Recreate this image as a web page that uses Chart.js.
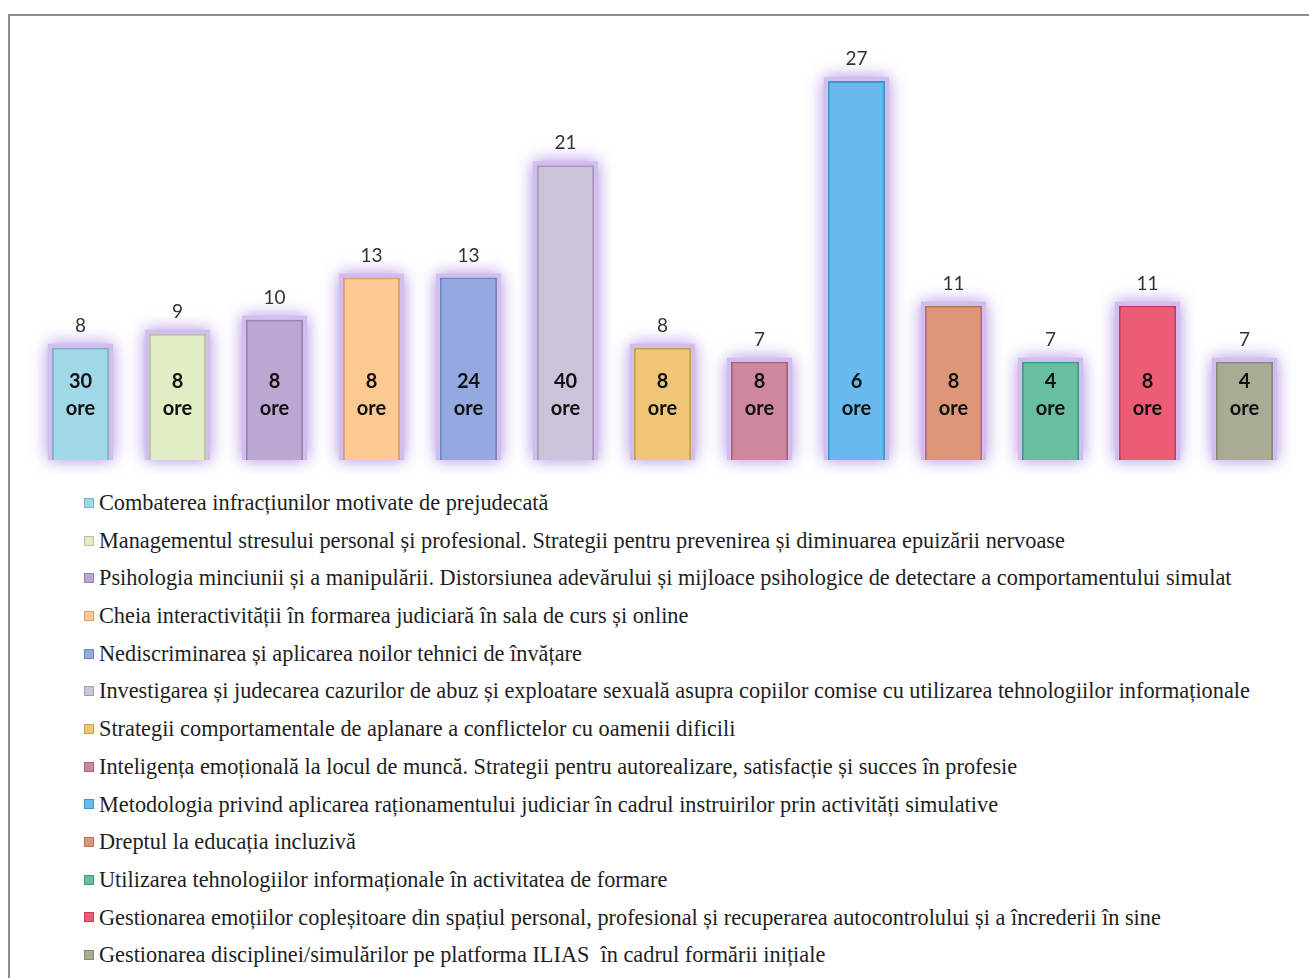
<!DOCTYPE html>
<html>
<head>
<meta charset="utf-8">
<script src="https://cdn.jsdelivr.net/npm/chart.js@4"></script>
<style>
  html, body { margin: 0; padding: 0; background: #fff; overflow: hidden; }
  #frame { position: absolute; left: 8px; top: 14px; width: 1330px; height: 1000px;
           border-left: 2px solid #8c8c8c; border-top: 2px solid #8c8c8c; }
  #wrap { position: absolute; left: 0; top: 0; width: 1309px; height: 475px; }
  #legend { position: absolute; left: 80px; top: 484px; margin: 0; padding: 0; list-style: none;
            font-family: "Liberation Serif", "Times New Roman", serif; font-size: 22.3px; color: #1e1e1e; }
  #legend li { height: 37.7px; line-height: 37.7px; white-space: pre; display: flex; align-items: center; }
  #legend .box { display: inline-block; width: 8px; height: 8px; margin-right: 5px; margin-left: 4px; border: 1px solid; }
</style>
</head>
<body>
<div id="frame"></div>
<div id="wrap"><canvas id="cursuri"></canvas></div>
<ul id="legend"></ul>
<script>
var courseNames = [
  'Combaterea infracțiunilor motivate de prejudecată',
  'Managementul stresului personal și profesional. Strategii pentru prevenirea și diminuarea epuizării nervoase',
  'Psihologia minciunii și a manipulării. Distorsiunea adevărului și mijloace psihologice de detectare a comportamentului simulat',
  'Cheia interactivității în formarea judiciară în sala de curs și online',
  'Nediscriminarea și aplicarea noilor tehnici de învățare',
  'Investigarea și judecarea cazurilor de abuz și exploatare sexuală asupra copiilor comise cu utilizarea tehnologiilor informaționale',
  'Strategii comportamentale de aplanare a conflictelor cu oamenii dificili',
  'Inteligența emoțională la locul de muncă. Strategii pentru autorealizare, satisfacție și succes în profesie',
  'Metodologia privind aplicarea raționamentului judiciar în cadrul instruirilor prin activități simulative',
  'Dreptul la educația incluzivă',
  'Utilizarea tehnologiilor informaționale în activitatea de formare',
  'Gestionarea emoțiilor copleșitoare din spațiul personal, profesional și recuperarea autocontrolului și a încrederii în sine',
  'Gestionarea disciplinei/simulărilor pe platforma ILIAS  în cadrul formării inițiale'
];
var participants = [8, 9, 10, 13, 13, 21, 8, 7, 27, 11, 7, 11, 7];
var hours = [30, 8, 8, 8, 24, 40, 8, 8, 6, 8, 4, 8, 4];

var barColors = ['#a0d8e8', '#e1edc5', '#bca7d3', '#fdc993', '#94a9e2', '#ccc2da', '#efc675',
                 '#cf879b', '#68b9ee', '#de9678', '#68bea0', '#ec5d75', '#a9ab94'];
var barBorders = ['#7fb3c2', '#b8c49f', '#9884ad', '#d5a16d', '#7085bc', '#a89db6', '#c9a052',
                  '#aa6377', '#4595c8', '#b87456', '#489a7e', '#c43e55', '#888a74'];

// purple glow drawn behind each bar
var glowPlugin = {
  id: 'glow',
  beforeDatasetsDraw: function(chart) {
    var ctx = chart.ctx;
    var meta = chart.getDatasetMeta(0);
    ctx.save();
    ctx.shadowColor = 'rgba(160, 120, 220, 0.85)';
    ctx.shadowBlur = 16;
    ctx.fillStyle = 'rgba(210, 190, 238, 1)';
    meta.data.forEach(function(bar) {
      var w = bar.width;
      ctx.fillRect(bar.x - w / 2 - 4, bar.y - 4, w + 8, bar.base - bar.y + 4);
    });
    ctx.restore();
  }
};

// value above bar, hours inside bar
var labelPlugin = {
  id: 'barTexts',
  afterDatasetsDraw: function(chart) {
    var ctx = chart.ctx;
    var meta = chart.getDatasetMeta(0);
    var base = chart.scales.y.getPixelForValue(0);
    ctx.save();
    ctx.textAlign = 'center';
    ctx.textBaseline = 'middle';
    meta.data.forEach(function(bar, i) {
      ctx.font = '19px Lato, "Open Sans", sans-serif';
      ctx.fillStyle = '#333';
      ctx.fillText(String(participants[i]), bar.x, bar.y - 22);
      ctx.font = 'bold 20px Lato, "Open Sans", sans-serif';
      ctx.fillStyle = '#111';
      ctx.fillText(String(hours[i]), bar.x, base - 78);
      ctx.fillText('ore', bar.x, base - 51);
    });
    ctx.restore();
  }
};

var htmlLegend = {
  id: 'htmlLegend',
  afterUpdate: function(chart) {
    var ul = document.getElementById('legend');
    ul.innerHTML = '';
    chart.data.labels.forEach(function(lbl, i) {
      var li = document.createElement('li');
      var box = document.createElement('span');
      box.className = 'box';
      box.style.background = chart.data.datasets[0].backgroundColor[i];
      box.style.borderColor = chart.data.datasets[0].borderColor[i];
      li.appendChild(box);
      li.appendChild(document.createTextNode(lbl));
      ul.appendChild(li);
    });
  }
};

window.addEventListener('load', function() {
  var ctx = document.getElementById('cursuri').getContext('2d');
  new Chart(ctx, {
    type: 'bar',
    data: {
      labels: courseNames,
      datasets: [{
        data: participants,
        backgroundColor: barColors,
        borderColor: barBorders,
        borderWidth: 2,
        barPercentage: 0.59,
        categoryPercentage: 1.0
      }]
    },
    options: {
      responsive: true,
      maintainAspectRatio: false,
      animation: false,
      layout: { padding: { left: 32, right: 16, top: 39, bottom: 15 } },
      scales: {
        x: { display: false },
        y: { display: false, min: 0, max: 30 }
      },
      plugins: {
        legend: { display: false },
        tooltip: { enabled: false }
      }
    },
    plugins: [glowPlugin, labelPlugin, htmlLegend]
  });
});
</script>
</body>
</html>
